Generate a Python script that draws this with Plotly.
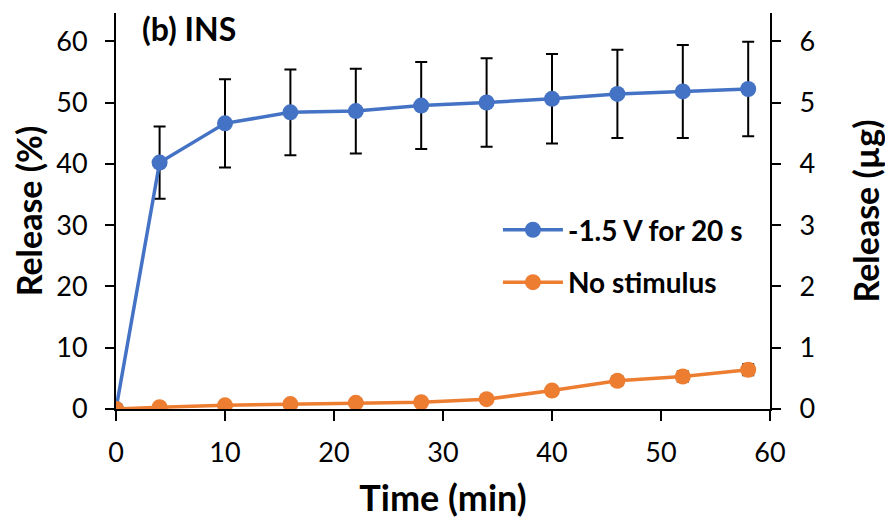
import plotly.graph_objects as go

time_min = [0, 4, 10, 16, 22, 28, 34, 40, 46, 52, 58]
stim_release = [0, 40.2, 46.6, 48.4, 48.6, 49.5, 50.0, 50.6, 51.4, 51.8, 52.2]
stim_err = [0, 5.9, 7.2, 7.0, 6.9, 7.1, 7.2, 7.3, 7.2, 7.6, 7.7]
nostim_release = [0, 0.3, 0.6, 0.8, 1.0, 1.1, 1.6, 3.0, 4.6, 5.3, 6.4]
nostim_err = [0, 0.2, 0.3, 0.3, 0.3, 0.4, 0.6, 0.7, 0.7, 0.8, 0.9]
left_ticks = [0, 10, 20, 30, 40, 50, 60]
right_ticks = [0, 1, 2, 3, 4, 5, 6]
x_ticks = [0, 10, 20, 30, 40, 50, 60]

BLUE = "#4472C4"
ORANGE = "#ED7D31"
FONT = "Lato, 'Open Sans', sans-serif"

fig = go.Figure()
fig.add_trace(go.Scatter(
    x=time_min, y=stim_release, mode="lines+markers", name="<b>-1.5 V for 20 s</b>",
    legendgroup="a",
    line=dict(color=BLUE, width=3.5), marker=dict(color=BLUE, size=16),
    error_y=dict(type="data", array=stim_err, color="black", thickness=2, width=6),
))
fig.add_trace(go.Scatter(
    x=time_min, y=nostim_release, mode="lines+markers", name="<b>No stimulus</b>",
    legendgroup="b",
    line=dict(color=ORANGE, width=3.5), marker=dict(color=ORANGE, size=16),
    error_y=dict(type="data", array=nostim_err, color="black", thickness=2, width=6),
))
fig.add_trace(go.Scatter(
    x=[0], y=[0], yaxis="y2", mode="markers", showlegend=False,
    marker=dict(opacity=0), hoverinfo="skip",
))

fig.update_layout(
    width=885, height=521,
    margin=dict(l=108, r=123, t=5, b=120),
    plot_bgcolor="white", paper_bgcolor="white",
    font=dict(family=FONT, size=27, color="black"),
    showlegend=True,
    legend=dict(x=0.584, y=0.515, xanchor="left", yanchor="top",
                font=dict(size=28, color="black"), bgcolor="rgba(0,0,0,0)",
                itemwidth=60, tracegroupgap=13),
    xaxis=dict(range=[0, 60], tickvals=x_ticks, showline=True, linecolor="black",
               linewidth=2, ticks="outside", ticklen=10, tickwidth=2, tickcolor="black",
               ticklabelstandoff=9,
               showgrid=False, zeroline=False, automargin=False,
               title=dict(text="<b>Time (min)</b>", font=dict(size=36), standoff=18)),
    yaxis=dict(range=[0, 64.6], tickvals=left_ticks, showline=True, linecolor="black",
               linewidth=2, ticks="outside", ticklen=9, tickwidth=2, tickcolor="black",
               ticklabelstandoff=12,
               showgrid=False, zeroline=False, automargin=False,
               title=dict(text="<b>Release (%)</b>", font=dict(size=34), standoff=5)),
    yaxis2=dict(range=[0, 6.46], tickvals=right_ticks, overlaying="y", side="right",
                showline=True, linecolor="black", linewidth=2, ticks="outside",
                ticklen=9, tickwidth=2, tickcolor="black", ticklabelstandoff=13,
                showgrid=False, zeroline=False, automargin=False,
                title=dict(text="<b>Release (µg)</b>", font=dict(size=34), standoff=41)),
    annotations=[dict(text="<b>(b) INS</b>", x=0.037, y=0.96, xref="paper", yref="paper",
                      xanchor="left", yanchor="middle", showarrow=False,
                      font=dict(size=32, color="black"))],
)

fig.write_html("out.html")
